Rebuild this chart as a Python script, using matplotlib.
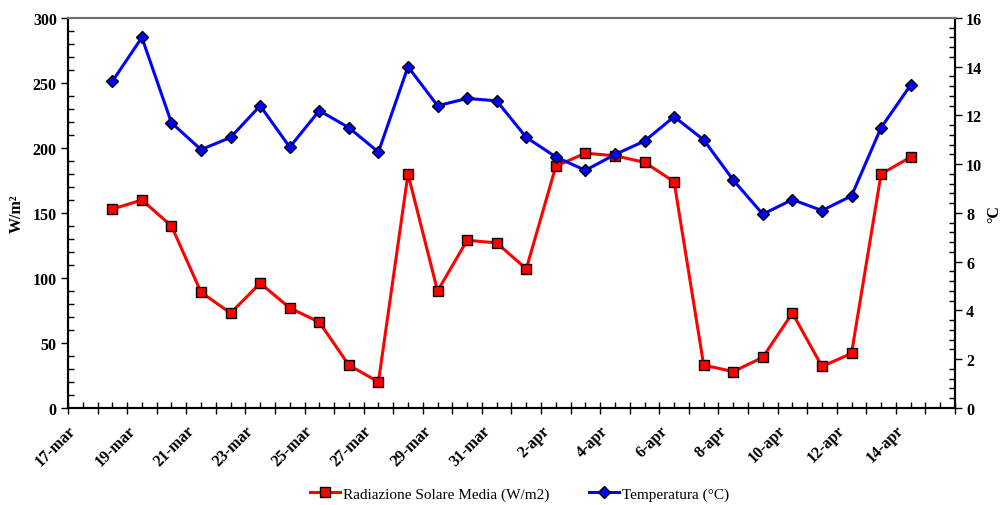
import datetime as dt
import matplotlib
matplotlib.use('Agg')
from matplotlib import pyplot as plt
from matplotlib import dates as mdates
from matplotlib.ticker import MultipleLocator, FuncFormatter

plt.rcParams['font.family'] = ['Liberation Serif', 'DejaVu Serif']

# giorni di misura (valori medi giornalieri, posti a mezzogiorno)
start = dt.datetime(2010, 3, 18, 12)
giorni = [start + dt.timedelta(days=i) for i in range(28)]

radiazione = [153, 160, 140, 89, 73, 96, 77, 66, 33, 20,
              180, 90, 129, 127, 107, 186, 196, 194, 189, 174,
              33, 28, 39, 73, 32, 42, 180, 193]
temperatura = [13.4, 15.2, 11.7, 10.6, 11.1, 12.4, 10.7, 12.2, 11.5, 10.5,
               14.0, 12.4, 12.7, 12.6, 11.1, 10.3, 9.75, 10.4, 10.95, 11.95,
               11.0, 9.35, 7.95, 8.55, 8.1, 8.7, 11.5, 13.25]

mesi = {3: 'mar', 4: 'apr'}
x_start = dt.datetime(2010, 3, 17)
x_end = dt.datetime(2010, 4, 16)

fig = plt.figure(figsize=(10.04, 5.06), dpi=100)
ax = fig.add_axes([0.0677, 0.1917, 0.8835, 0.7708])
ax2 = ax.twinx()

l1, = ax.plot(giorni, radiazione, color='red', lw=2.2, marker='s', ms=7.8,
              mfc='red', mec='black', mew=1.0, label='Radiazione Solare Media (W/m2)')
l2, = ax2.plot(giorni, temperatura, color='blue', lw=2.2, marker='D', ms=6.2,
               mfc='blue', mec='black', mew=1.0, label='Temperatura (°C)')

ax.set_xlim(mdates.date2num(x_start), mdates.date2num(x_end))
ax.set_ylim(0, 300)
ax2.set_ylim(0, 16)


def etichetta(x, pos):
    d = mdates.num2date(x).replace(tzinfo=None)
    if (d - x_start).days % 2 or d >= dt.datetime(2010, 4, 15):
        return ''
    return f'{d.day}-{mesi[d.month]}'


ax.xaxis.set_major_locator(mdates.DayLocator())
ax.xaxis.set_minor_locator(mdates.HourLocator(byhour=[12]))
ax.xaxis.set_major_formatter(FuncFormatter(etichetta))
ax.yaxis.set_major_locator(MultipleLocator(50))
ax.yaxis.set_minor_locator(MultipleLocator(10))
ax2.yaxis.set_major_locator(MultipleLocator(2))
ax2.yaxis.set_minor_locator(MultipleLocator(0.4))

ax.tick_params(axis='x', which='major', direction='inout', length=8, width=1, pad=6)
ax.tick_params(axis='x', which='minor', direction='in', length=4, width=1)
ax.tick_params(axis='y', which='major', direction='out', length=5, width=1, pad=3)
ax.tick_params(axis='y', which='minor', direction='in', length=4, width=1)
ax2.tick_params(axis='y', which='major', direction='out', length=5, width=1, pad=3)
ax2.tick_params(axis='y', which='minor', direction='in', length=4, width=1)

for lab in ax.get_xticklabels():
    lab.set_rotation(45)
    lab.set_ha('right')
    lab.set_rotation_mode('anchor')
for lab in ax.get_xticklabels() + ax.get_yticklabels() + ax2.get_yticklabels():
    lab.set_fontweight('bold')
    lab.set_fontsize(11.5)

for a in (ax, ax2):
    a.spines['top'].set_color('#707070')
    a.spines['top'].set_linewidth(1.5)
    for s in ('left', 'right', 'bottom'):
        a.spines[s].set_linewidth(1.5)

ax.set_ylabel('W/m²', fontsize=11.5, fontweight='bold', labelpad=6)
ax2.set_ylabel('°C', fontsize=11.5, fontweight='bold', labelpad=3)

fig.legend(handles=[l1, l2], loc='center', bbox_to_anchor=(0.5175, 0.022),
           ncol=2, frameon=False, fontsize=11, handlelength=2.0,
           handletextpad=0.2, columnspacing=2.55)

fig.savefig('out.png', dpi=100)
